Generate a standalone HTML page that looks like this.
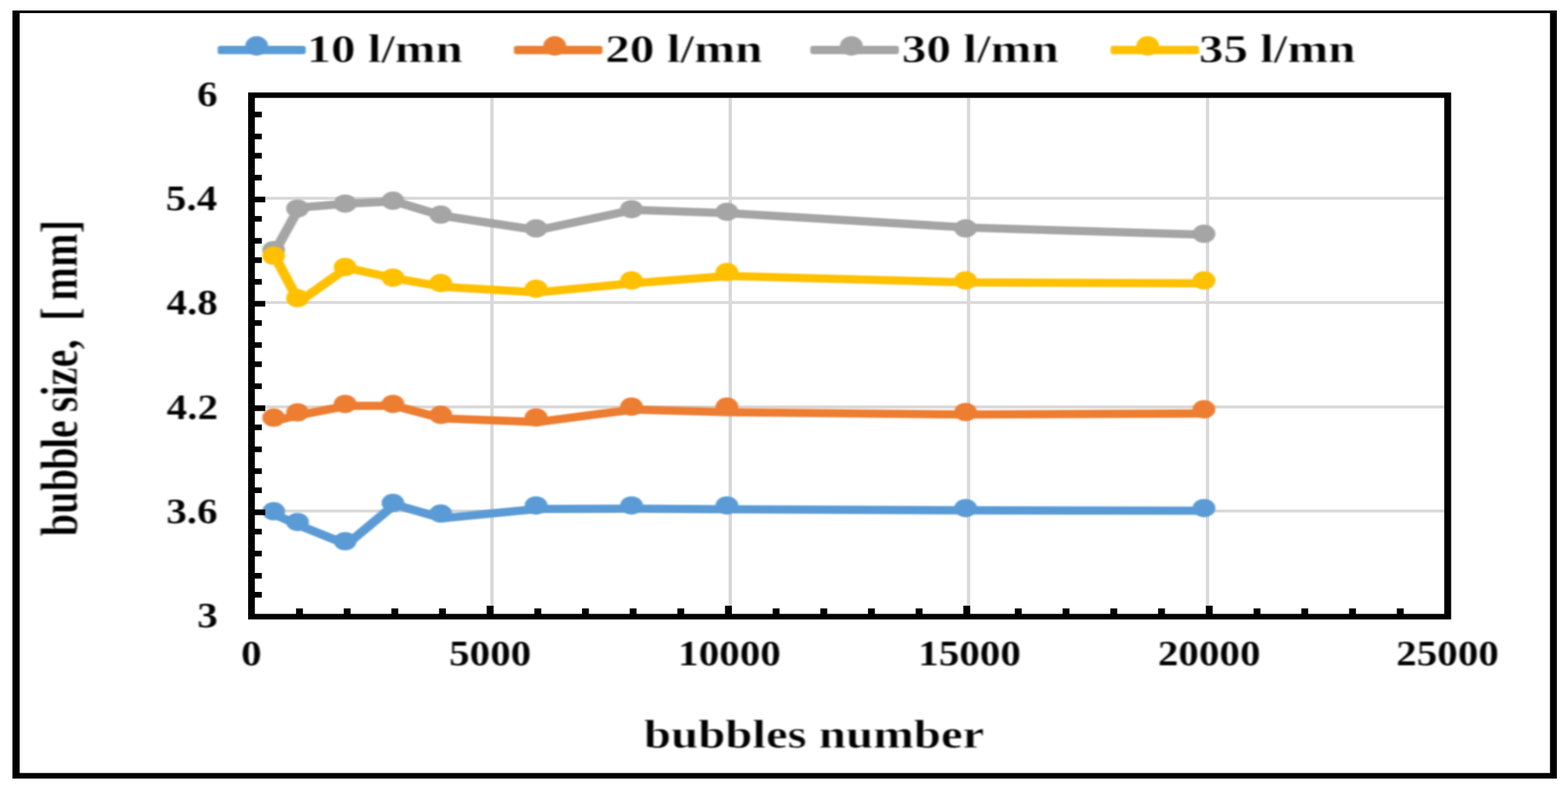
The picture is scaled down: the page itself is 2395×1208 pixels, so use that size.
<!DOCTYPE html>
<html lang="en">
<head>
<meta charset="utf-8">
<title>bubble size vs bubbles number</title>
<style>
html,body{margin:0;padding:0;background:#fff;}
body{width:2395px;height:1208px;}
svg{display:block;}
.t{font-family:"Liberation Serif","DejaVu Serif",serif;font-weight:bold;fill:#000;stroke:#fff;stroke-width:0.8px;paint-order:fill stroke;}
.k{stroke-width:0.2px;}
</style>
</head>
<body>
<svg width="2395" height="1208" viewBox="0 0 2395 1208">
<defs><filter id="soft" x="0" y="0" width="2395" height="1208" filterUnits="userSpaceOnUse" color-interpolation-filters="sRGB"><feGaussianBlur stdDeviation="1.5 1.2"/></filter></defs>
<rect x="0" y="0" width="2395" height="1208" fill="#fff"/>
<path fill="#000" fill-rule="evenodd" d="M19 16H2378V1189H19Z M30 20H2367.5V1180.5H30Z"/>
<rect x="389.30" y="300.50" width="1816.70" height="4.50" fill="#d9d9d9"/>
<rect x="389.30" y="459.70" width="1816.70" height="4.50" fill="#d9d9d9"/>
<rect x="389.30" y="619.20" width="1816.70" height="4.50" fill="#d9d9d9"/>
<rect x="389.30" y="778.20" width="1816.70" height="4.50" fill="#d9d9d9"/>
<rect x="748.80" y="149.60" width="5.20" height="787.90" fill="#d9d9d9"/>
<rect x="1112.80" y="149.60" width="5.20" height="787.90" fill="#d9d9d9"/>
<rect x="1476.80" y="149.60" width="5.20" height="787.90" fill="#d9d9d9"/>
<rect x="1841.92" y="149.60" width="5.00" height="787.90" fill="#d9d9d9"/>
<g filter="url(#soft)">
<g transform="scale(5.2,4.1944)"><polyline points="80.87,187.39 87.88,191.30 101.87,198.24 115.90,183.70 129.94,188.70 157.94,185.29 185.98,185.20 214.00,185.44 284.12,185.82 354.13,185.96" fill="none" stroke="#5b9bd5" stroke-width="3.0" stroke-linejoin="round" stroke-linecap="round"/></g>
<ellipse cx="418.0" cy="780.8" rx="17.4" ry="14.0" fill="#5b9bd5"/>
<ellipse cx="454.5" cy="797.2" rx="17.4" ry="14.0" fill="#5b9bd5"/>
<ellipse cx="527.2" cy="826.5" rx="17.4" ry="14.0" fill="#5b9bd5"/>
<ellipse cx="600.2" cy="768.1" rx="17.4" ry="14.0" fill="#5b9bd5"/>
<ellipse cx="673.2" cy="784.3" rx="17.4" ry="14.0" fill="#5b9bd5"/>
<ellipse cx="818.8" cy="771.9" rx="17.4" ry="14.0" fill="#5b9bd5"/>
<ellipse cx="964.6" cy="771.9" rx="17.4" ry="14.0" fill="#5b9bd5"/>
<ellipse cx="1110.3" cy="771.9" rx="17.4" ry="14.0" fill="#5b9bd5"/>
<ellipse cx="1474.9" cy="775.9" rx="17.4" ry="14.0" fill="#5b9bd5"/>
<ellipse cx="1839.0" cy="775.9" rx="17.4" ry="14.0" fill="#5b9bd5"/>
<g transform="scale(5.2,4.1944)"><polyline points="80.87,153.18 87.88,151.15 101.87,147.77 115.90,147.77 129.94,152.34 157.94,153.66 185.98,149.13 214.00,150.08 284.12,150.91 354.13,150.53" fill="none" stroke="#ed7d31" stroke-width="3.0" stroke-linejoin="round" stroke-linecap="round"/></g>
<ellipse cx="418.0" cy="637.8" rx="17.4" ry="14.0" fill="#ed7d31"/>
<ellipse cx="454.5" cy="629.8" rx="17.4" ry="14.0" fill="#ed7d31"/>
<ellipse cx="527.2" cy="616.9" rx="17.4" ry="14.0" fill="#ed7d31"/>
<ellipse cx="600.2" cy="616.9" rx="17.4" ry="14.0" fill="#ed7d31"/>
<ellipse cx="673.2" cy="633.6" rx="17.4" ry="14.0" fill="#ed7d31"/>
<ellipse cx="818.8" cy="637.5" rx="17.4" ry="14.0" fill="#ed7d31"/>
<ellipse cx="964.6" cy="621.1" rx="17.4" ry="14.0" fill="#ed7d31"/>
<ellipse cx="1110.3" cy="621.1" rx="17.4" ry="14.0" fill="#ed7d31"/>
<ellipse cx="1474.9" cy="629.3" rx="17.4" ry="14.0" fill="#ed7d31"/>
<ellipse cx="1839.0" cy="625.1" rx="17.4" ry="14.0" fill="#ed7d31"/>
<g transform="scale(5.2,4.1944)"><polyline points="80.87,91.31 87.88,75.58 101.87,74.15 115.90,73.31 129.94,78.56 157.94,83.80 185.98,76.41 214.00,77.60 284.12,82.85 354.13,85.47" fill="none" stroke="#a5a5a5" stroke-width="3.0" stroke-linejoin="round" stroke-linecap="round"/></g>
<ellipse cx="418.0" cy="382.0" rx="17.4" ry="14.0" fill="#a5a5a5"/>
<ellipse cx="454.5" cy="318.4" rx="17.4" ry="14.0" fill="#a5a5a5"/>
<ellipse cx="527.2" cy="310.9" rx="17.4" ry="14.0" fill="#a5a5a5"/>
<ellipse cx="600.2" cy="306.6" rx="17.4" ry="14.0" fill="#a5a5a5"/>
<ellipse cx="673.2" cy="327.8" rx="17.4" ry="14.0" fill="#a5a5a5"/>
<ellipse cx="818.8" cy="348.8" rx="17.4" ry="14.0" fill="#a5a5a5"/>
<ellipse cx="964.6" cy="319.4" rx="17.4" ry="14.0" fill="#a5a5a5"/>
<ellipse cx="1110.3" cy="323.4" rx="17.4" ry="14.0" fill="#a5a5a5"/>
<ellipse cx="1474.9" cy="348.8" rx="17.4" ry="14.0" fill="#a5a5a5"/>
<ellipse cx="1839.0" cy="357.1" rx="17.4" ry="14.0" fill="#a5a5a5"/>
<g transform="scale(5.2,4.1944)"><polyline points="80.87,93.70 87.88,109.91 101.87,97.51 115.90,101.32 129.94,104.42 157.94,106.45 185.98,103.11 214.00,100.49 284.12,102.83 354.13,103.18" fill="none" stroke="#ffc000" stroke-width="3.0" stroke-linejoin="round" stroke-linecap="round"/></g>
<ellipse cx="418.0" cy="390.6" rx="17.4" ry="14.0" fill="#ffc000"/>
<ellipse cx="454.5" cy="455.4" rx="17.4" ry="14.0" fill="#ffc000"/>
<ellipse cx="527.2" cy="407.8" rx="17.4" ry="14.0" fill="#ffc000"/>
<ellipse cx="600.2" cy="424.0" rx="17.4" ry="14.0" fill="#ffc000"/>
<ellipse cx="673.2" cy="432.3" rx="17.4" ry="14.0" fill="#ffc000"/>
<ellipse cx="818.8" cy="440.9" rx="17.4" ry="14.0" fill="#ffc000"/>
<ellipse cx="964.6" cy="428.3" rx="17.4" ry="14.0" fill="#ffc000"/>
<ellipse cx="1110.3" cy="415.6" rx="17.4" ry="14.0" fill="#ffc000"/>
<ellipse cx="1474.9" cy="428.3" rx="17.4" ry="14.0" fill="#ffc000"/>
<ellipse cx="1839.0" cy="428.3" rx="17.4" ry="14.0" fill="#ffc000"/>
</g>
<path fill="#000" fill-rule="evenodd" d="M379 141.3H2216.5V946H379Z M389.3 149.6H2206V937.5H389.3Z"/>
<rect x="388.30" y="170.60" width="11.60" height="8.60" fill="#000"/>
<rect x="388.30" y="204.10" width="11.60" height="8.60" fill="#000"/>
<rect x="388.30" y="233.50" width="11.60" height="8.60" fill="#000"/>
<rect x="388.30" y="267.00" width="11.60" height="8.60" fill="#000"/>
<rect x="388.30" y="300.40" width="16.90" height="8.60" fill="#000"/>
<rect x="388.30" y="329.90" width="11.60" height="8.60" fill="#000"/>
<rect x="388.30" y="363.50" width="11.60" height="8.60" fill="#000"/>
<rect x="388.30" y="393.00" width="11.60" height="8.60" fill="#000"/>
<rect x="388.30" y="426.10" width="11.60" height="8.60" fill="#000"/>
<rect x="388.30" y="459.60" width="16.90" height="8.60" fill="#000"/>
<rect x="388.30" y="489.00" width="11.60" height="8.60" fill="#000"/>
<rect x="388.30" y="522.60" width="11.60" height="8.60" fill="#000"/>
<rect x="388.30" y="551.90" width="11.60" height="8.60" fill="#000"/>
<rect x="388.30" y="585.50" width="11.60" height="8.60" fill="#000"/>
<rect x="388.30" y="619.10" width="16.90" height="8.60" fill="#000"/>
<rect x="388.30" y="648.40" width="11.60" height="8.60" fill="#000"/>
<rect x="388.30" y="681.90" width="11.60" height="8.60" fill="#000"/>
<rect x="388.30" y="715.20" width="11.60" height="8.60" fill="#000"/>
<rect x="388.30" y="744.40" width="11.60" height="8.60" fill="#000"/>
<rect x="388.30" y="778.10" width="16.90" height="8.60" fill="#000"/>
<rect x="388.30" y="807.60" width="11.60" height="8.60" fill="#000"/>
<rect x="388.30" y="841.10" width="11.60" height="8.60" fill="#000"/>
<rect x="388.30" y="875.00" width="11.60" height="8.60" fill="#000"/>
<rect x="388.30" y="904.00" width="11.60" height="8.60" fill="#000"/>
<rect x="452.20" y="929.20" width="10.50" height="9.30" fill="#000"/>
<rect x="525.00" y="929.20" width="10.50" height="9.30" fill="#000"/>
<rect x="597.80" y="929.20" width="10.50" height="9.30" fill="#000"/>
<rect x="670.60" y="929.20" width="10.50" height="9.30" fill="#000"/>
<rect x="743.40" y="925.00" width="10.50" height="13.50" fill="#000"/>
<rect x="816.20" y="929.20" width="10.50" height="9.30" fill="#000"/>
<rect x="889.00" y="929.20" width="10.50" height="9.30" fill="#000"/>
<rect x="961.80" y="929.20" width="10.50" height="9.30" fill="#000"/>
<rect x="1034.60" y="929.20" width="10.50" height="9.30" fill="#000"/>
<rect x="1107.40" y="925.00" width="10.50" height="13.50" fill="#000"/>
<rect x="1180.20" y="929.20" width="10.50" height="9.30" fill="#000"/>
<rect x="1253.00" y="929.20" width="10.50" height="9.30" fill="#000"/>
<rect x="1325.80" y="929.20" width="10.50" height="9.30" fill="#000"/>
<rect x="1398.60" y="929.20" width="10.50" height="9.30" fill="#000"/>
<rect x="1471.40" y="925.00" width="10.50" height="13.50" fill="#000"/>
<rect x="1550.10" y="929.20" width="10.50" height="9.30" fill="#000"/>
<rect x="1623.03" y="929.20" width="10.50" height="9.30" fill="#000"/>
<rect x="1695.96" y="929.20" width="10.50" height="9.30" fill="#000"/>
<rect x="1768.89" y="929.20" width="10.50" height="9.30" fill="#000"/>
<rect x="1841.82" y="925.00" width="10.50" height="13.50" fill="#000"/>
<rect x="1914.75" y="929.20" width="10.50" height="9.30" fill="#000"/>
<rect x="1987.68" y="929.20" width="10.50" height="9.30" fill="#000"/>
<rect x="2060.61" y="929.20" width="10.50" height="9.30" fill="#000"/>
<rect x="2133.54" y="929.20" width="10.50" height="9.30" fill="#000"/>
<g filter="url(#soft)">
<rect x="332.4" y="70.1" width="134.6" height="12.7" rx="4" ry="4" fill="#5b9bd5"/>
<ellipse cx="392.0" cy="70.1" rx="17.4" ry="14.8" fill="#5b9bd5"/>
<text class="t" transform="translate(468.54,95.00) scale(1.2173,1)" font-size="61.24">10 l/mn</text>
<rect x="785.0" y="70.1" width="135.3" height="12.7" rx="4" ry="4" fill="#ed7d31"/>
<ellipse cx="847.3" cy="70.1" rx="17.4" ry="14.8" fill="#ed7d31"/>
<text class="t" transform="translate(924.49,95.00) scale(1.2273,1)" font-size="61.24">20 l/mn</text>
<rect x="1237.7" y="70.1" width="135.3" height="12.7" rx="4" ry="4" fill="#a5a5a5"/>
<ellipse cx="1300.4" cy="70.1" rx="17.4" ry="14.8" fill="#a5a5a5"/>
<text class="t" transform="translate(1377.57,95.00) scale(1.2254,1)" font-size="61.24">30 l/mn</text>
<rect x="1696.3" y="70.1" width="135.1" height="12.7" rx="4" ry="4" fill="#ffc000"/>
<ellipse cx="1753.0" cy="70.1" rx="17.4" ry="14.8" fill="#ffc000"/>
<text class="t" transform="translate(1831.28,95.00) scale(1.2222,1)" font-size="61.24">35 l/mn</text>
<text class="t k" transform="translate(301.03,161.80) scale(1.1500,1)" font-size="54.53">6</text>
<text class="t k" transform="translate(253.37,321.00) scale(1.1500,1)" font-size="54.53">5.4</text>
<text class="t k" transform="translate(254.31,480.30) scale(1.1500,1)" font-size="54.53">4.8</text>
<text class="t k" transform="translate(254.62,639.80) scale(1.1500,1)" font-size="54.53">4.2</text>
<text class="t k" transform="translate(254.00,798.80) scale(1.1500,1)" font-size="54.53">3.6</text>
<text class="t k" transform="translate(301.34,958.30) scale(1.1500,1)" font-size="54.53">3</text>
<text class="t k" transform="translate(368.32,1016.00) scale(1.1500,1)" font-size="54.53">0</text>
<text class="t k" transform="translate(685.99,1016.00) scale(1.1500,1)" font-size="54.53">5000</text>
<text class="t k" transform="translate(1035.86,1016.00) scale(1.1500,1)" font-size="54.53">10000</text>
<text class="t k" transform="translate(1402.56,1016.00) scale(1.1500,1)" font-size="54.53">15000</text>
<text class="t k" transform="translate(1768.52,1016.00) scale(1.1500,1)" font-size="54.53">20000</text>
<text class="t k" transform="translate(2132.62,1016.00) scale(1.1500,1)" font-size="54.53">25000</text>
<text class="t" transform="translate(983.45,1141.50) scale(1.2261,1)" font-size="60.82">bubbles number</text>
<text class="t" style="white-space:pre" transform="translate(117.50,819.12) rotate(-90) scale(0.7721,1)" font-size="80.00"><tspan>bub</tspan><tspan dx="-1.94">b</tspan><tspan dx="-3.24">l</tspan><tspan dx="-0.65">e</tspan><tspan dx="-4.53"> size,</tspan><tspan dx="16.84"> [</tspan><tspan dx="-7.12"> mm]</tspan></text>
</g>
</svg>
</body>
</html>
